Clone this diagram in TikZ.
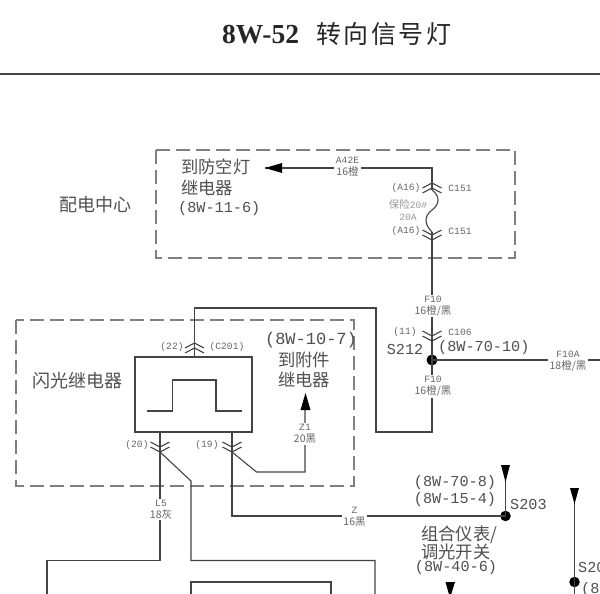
\documentclass[tikz,border=0pt]{standalone}
\usepackage{fontspec}
\setmainfont{Liberation Serif}
\setmonofont{Liberation Mono}
\newfontfamily\cjk{Noto Sans CJK SC}
\definecolor{wirec}{HTML}{444444}
\definecolor{dashc}{HTML}{808080}
\definecolor{txtc}{HTML}{505050}
\definecolor{smallc}{HTML}{666666}
\newcommand{\smcjk}[1]{{\fontsize{10.5}{10.5}\selectfont\cjk #1}}
\tikzset{
  wire/.style={draw=wirec,line width=1.1pt},
  dbox/.style={draw=dashc,line width=1.1pt,dash pattern=on 14pt off 6pt},
  big/.style={text=txtc,font=\fontsize{17.3}{20}\selectfont\cjk,inner sep=0pt,align=center},
  mid/.style={text=txtc,font=\fontsize{15.2}{17}\selectfont\ttfamily,inner sep=0pt,align=center},
  tinyn/.style={text=smallc,font=\fontsize{9.6}{12}\selectfont\ttfamily,inner sep=0pt,align=center},
  tiny/.style={tinyn,fill=white,inner ysep=1pt,inner xsep=1.5pt},
  dotn/.style={circle,fill=black,inner sep=0pt,minimum size=11pt},
  tri/.style={fill=black,draw=none},
  pt/.style={inner sep=0pt,minimum size=0pt}
}
\newcommand{\chev}[2]{%
  \draw[wire] (#1-9.5,#2-5) -- (#1,#2) -- (#1+9.5,#2-5);
  \draw[wire] (#1-9.5,#2) -- (#1,#2+5) -- (#1+9.5,#2);}
\newcommand{\chevup}[2]{%
  \draw[wire] (#1-9.5,#2+5) -- (#1,#2) -- (#1+9.5,#2+5);
  \draw[wire] (#1-9.5,#2+10) -- (#1,#2+5) -- (#1+9.5,#2+10);}
\begin{document}
\begin{tikzpicture}[x=1pt,y=-1pt]
\useasboundingbox (0,0) rectangle (600,594);
\fill[white] (0,0) rectangle (600,594);
\clip (0,0) rectangle (600,594);
% title
\node[pt,text=black!85,font=\fontsize{27.5}{30}\selectfont,anchor=west] (title) at (222,34) {\textbf{8W-52}\hspace{17pt}{\cjk\fontsize{25}{30}\selectfont\addfontfeature{LetterSpace=10}转向信号灯}};
\draw[line width=1.1pt,draw=wirec] (0,74) -- (600,74);
% dashed boxes
\draw[dbox] (156,150) rectangle (515,258);
\draw[dbox] (16,320) rectangle (354,486);
% power box texts
\node[big,anchor=west] (t1) at (181,167) {到防空灯};
\node[big,anchor=west] (t2) at (181,188) {继电器};
\node[mid,anchor=west] (t3) at (178,209) {(8W-11-6)};
\node[big,font=\fontsize{18}{20}\selectfont\cjk] (t4) at (95,205) {配电中心};
% nodes
\node[dotn] (s212) at (432,360) {};
\node[dotn,minimum size=10.5pt] (s203) at (505.5,516) {};
\node[dotn,minimum size=10.5pt] (s20x) at (574.5,582) {};
\coordinate (top) at (432,168);
\coordinate (tip) at (265,168);
\coordinate (rel) at (194.5,357);
\coordinate (in20) at (160,432);
\coordinate (in19) at (232,432);
% relay box
\node[draw=wirec,line width=1.2pt,minimum width=117pt,minimum height=75pt,inner sep=0pt] (relay) at (193.5,394.5) {};
\draw[wire,line width=1.3pt] (146.5,411) -- (172.5,411) -- (172.5,380) -- (216,380) -- (216,411) -- (242,411);
% wires
\draw[wire] (tip) -- (top) -- (432,190);
\draw[wire] (432,190) .. controls (440,196) and (440,204) .. (432,210) .. controls (424,216) and (424,224) .. (432,232);
\draw[wire] (432,232) -- (s212.center);
\draw[wire] (s212.center) -- (432,432) -- (376,432) -- (376,308) -- (194.5,308) -- (rel);
\draw[wire] (s212.center) -- (600,360);
\draw[wire] (in20) -- (160,560.5) -- (47,560.5) -- (47,594);
\draw[wire] (160,452) -- (191,481) -- (191,560.5) -- (375,560.5) -- (375,594);
\draw[wire] (191,594) -- (191,582) -- (331,582) -- (331,594);
\draw[wire] (in19) -- (232,516) -- (s203.center);
\draw[wire] (232,452) -- (256.5,472) -- (305,472) -- (305,405);
\draw[wire] (s203.center) -- (505.5,475);
\draw[wire] (s20x.center) -- (574.5,498);
\draw[wire] (574.5,582) -- (574.5,594);
% arrows/triangles
\fill[tri] (tip) -- (282,163) -- (282,173) -- cycle;
\fill[tri] (305.5,393) -- (300.5,410) -- (310.5,410) -- cycle;
\fill[tri] (501,465) -- (510,465) -- (505.5,482) -- cycle;
\fill[tri] (570,488) -- (579,488) -- (574.5,504) -- cycle;
\fill[tri] (445.5,582) -- (455,582) -- (450,598) -- cycle;
% connectors
\chevup{432}{183}
\chev{432}{235}
\chev{432}{336}
\chevup{194.5}{343}
\chev{160}{447}
\chev{232}{447}
% wire labels
\node[tiny] (l1) at (347.5,167) {A42E\\\smcjk{16橙}};
\node[tiny] (l2) at (433,306) {F10\\\smcjk{16橙/黑}};
\node[tiny] (l3) at (433,386.5) {F10\\\smcjk{16橙/黑}};
\node[tiny] (l4) at (568,361) {F10A\\\smcjk{18橙/黑}};
\node[tiny] (l5) at (161,509.5) {L5\\\smcjk{18灰}};
\node[tiny] (l6) at (354.5,517) {Z\\\smcjk{16黑}};
\node[tiny] (l7) at (305,434) {Z1\\\smcjk{20黑}};
% connector labels
\node[tinyn] at (406,188) {(A16)};
\node[tinyn] at (460,188) {C151};
\node[tinyn] at (406,231) {(A16)};
\node[tinyn] at (460,231) {C151};
\node[tinyn,text=gray!80] at (408,210.5) {\smcjk{保险}20\#\\20A};
\node[tinyn] at (405,332) {(11)};
\node[tinyn] at (460,332) {C106};
\node[tinyn] at (172,347) {(22)};
\node[tinyn] at (227,347) {(C201)};
\node[tinyn] at (137,445) {(20)};
\node[tinyn] at (207,445) {(19)};
% other text
\node[mid] at (405,349) {S212};
\node[mid,anchor=west] at (438,348) {(8W-70-10)};
\node[big,font=\fontsize{18}{20}\selectfont\cjk] (t5) at (77.5,381) {闪光继电器};
\node[mid,font=\fontsize{17}{17}\selectfont\ttfamily] at (311,340) {(8W-10-7)};
\node[big] at (304,370) {到附件\\继电器};
\node[mid] at (455,491.5) {(8W-70-8)\\(8W-15-4)};
\node[mid,anchor=west] at (510,504) {S203};
\node[big,font=\fontsize{17.3}{16.5}\selectfont\cjk,align=left,anchor=west] at (421,543) {组合仪表/\\调光开关};
\node[mid] at (456,568) {(8W-40-6)};
\node[mid,anchor=west] at (578,567) {S20};
\node[mid,anchor=west] at (581,590) {(8};
\end{tikzpicture}
\end{document}
